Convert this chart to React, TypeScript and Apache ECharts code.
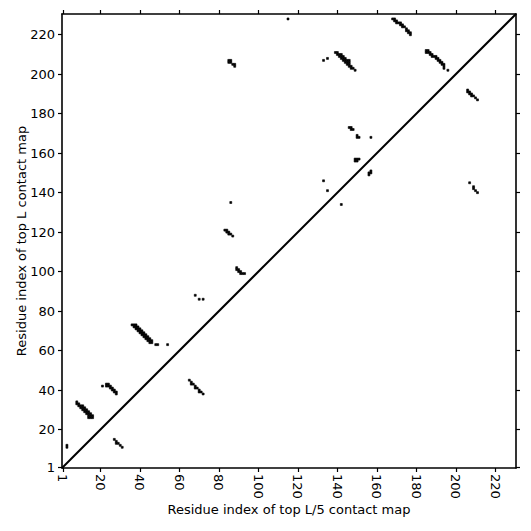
import React, { useEffect, useRef } from "react";
import * as echarts from "echarts";

const AXIS_MIN = 0.5;
const AXIS_MAX = 230.5;
const tickValues = [1, 20, 40, 60, 80, 100, 120, 140, 160, 180, 200, 220];
const diagonal: [number, number][] = [[0.5, 0.5], [230.5, 230.5]];

// contact cells [residue i (x), residue j (y)], grouped by cluster
const cluster01: [number, number][] = [[3, 11], [3, 12]];
const cluster02: [number, number][] = [
  [8, 34], [8, 33], [9, 33], [9, 32], [10, 32], [10, 31], [11, 32], [11, 31], [11, 30],
  [12, 31], [12, 30], [12, 29], [13, 30], [13, 29], [13, 28], [14, 29], [14, 28], [14, 27],
  [15, 28], [15, 27], [15, 26], [14, 26], [16, 27], [16, 26],
];
const cluster03: [number, number][] = [
  [21, 42], [23, 43], [24, 43], [23, 42], [24, 42], [25, 42], [25, 41], [26, 41], [26, 40],
  [27, 40], [27, 39], [28, 39], [28, 38],
];
const cluster04: [number, number][] = [[27, 15], [28, 14], [28, 13], [29, 13], [30, 12], [31, 11]];
const cluster05: [number, number][] = [
  [36, 73], [37, 73], [38, 73], [37, 72], [38, 72], [39, 72], [38, 71], [39, 71], [40, 71],
  [39, 70], [40, 70], [41, 70], [40, 69], [41, 69], [42, 69], [41, 68], [42, 68], [43, 68],
  [42, 67], [43, 67], [44, 67], [43, 66], [44, 66], [45, 66], [44, 65], [45, 65], [46, 65],
  [45, 64], [46, 64], [48, 63], [49, 63], [54, 63],
];
const cluster06: [number, number][] = [
  [65, 45], [66, 44], [66, 43], [67, 43], [68, 42], [68, 41], [69, 41], [70, 40], [70, 39],
  [71, 39], [72, 38],
];
const cluster07: [number, number][] = [[68, 88], [70, 86], [72, 86]];
const cluster08: [number, number][] = [
  [83, 121], [84, 121], [84, 120], [85, 120], [85, 119], [86, 119], [87, 118], [86, 135],
];
const cluster09: [number, number][] = [
  [89, 102], [89, 101], [90, 101], [90, 100], [91, 100], [91, 99], [92, 99], [93, 99],
];
const cluster10: [number, number][] = [
  [85, 207], [86, 207], [85, 206], [86, 206], [87, 205], [88, 205], [88, 204],
];
const cluster11: [number, number][] = [[115, 228]];
const cluster12: [number, number][] = [
  [133, 207], [135, 208],
  [139, 211], [140, 211], [140, 210], [141, 210], [142, 210], [141, 209], [142, 209], [143, 209],
  [142, 208], [143, 208], [144, 208], [143, 207], [144, 207], [145, 207], [146, 207],
  [144, 206], [145, 206], [146, 206], [145, 205], [146, 205], [146, 204], [147, 204],
  [147, 203], [148, 203], [149, 202],
];
const cluster13: [number, number][] = [[133, 146], [135, 141], [142, 134]];
const cluster14: [number, number][] = [
  [146, 173], [147, 173], [147, 172], [148, 172], [150, 169], [150, 168], [151, 168], [157, 168],
];
const cluster15: [number, number][] = [[149, 157], [150, 157], [151, 157], [149, 156], [150, 156]];
const cluster16: [number, number][] = [[157, 151], [157, 150], [156, 150], [156, 149]];
const cluster17: [number, number][] = [
  [168, 228], [169, 228], [169, 227], [170, 227], [170, 226], [171, 226], [172, 226],
  [172, 225], [173, 225], [173, 224], [174, 224], [175, 223], [175, 222], [176, 222],
  [176, 221], [177, 221], [177, 220],
];
const cluster18: [number, number][] = [
  [185, 212], [186, 212], [185, 211], [186, 211], [187, 211], [187, 210], [188, 210],
  [188, 209], [189, 209], [190, 209], [190, 208], [191, 208], [191, 207], [192, 207],
  [192, 206], [193, 206], [193, 205], [194, 205], [194, 204], [194, 203], [196, 202],
];
const cluster19: [number, number][] = [
  [206, 192], [206, 191], [207, 191], [207, 190], [208, 190], [208, 189], [209, 189],
  [210, 188], [211, 187],
];
const cluster20: [number, number][] = [[207, 145], [209, 143], [209, 142], [210, 141], [211, 140]];

const contacts = [
  ...cluster01, ...cluster02, ...cluster03, ...cluster04, ...cluster05, ...cluster06,
  ...cluster07, ...cluster08, ...cluster09, ...cluster10, ...cluster11, ...cluster12,
  ...cluster13, ...cluster14, ...cluster15, ...cluster16, ...cluster17, ...cluster18,
  ...cluster19, ...cluster20,
];

const FONT = "DejaVu Sans";

export default function App() {
  const ref = useRef<HTMLDivElement>(null);
  useEffect(() => {
    if (!ref.current) return;
    const chart = echarts.init(ref.current, null, { renderer: "svg" });
    const lineStyle = { color: "#000", width: 1.6 };
    const tickStyle = { color: "#000", width: 1.2 };
    const baseAxis = {
      type: "value" as const,
      min: AXIS_MIN,
      max: AXIS_MAX,
      splitLine: { show: false },
      axisLine: { show: true, onZero: false, lineStyle },
      axisTick: { show: true, inside: false, length: 4, lineStyle: tickStyle, customValues: tickValues },
    };
    chart.setOption({
      animation: false,
      backgroundColor: "#fff",
      grid: { left: 62, right: 15, top: 14, bottom: 63, containLabel: false },
      xAxis: [
        {
          ...baseAxis,
          position: "bottom",
          name: "Residue index of top L/5 contact map",
          nameLocation: "middle",
          nameGap: 35,
          nameMoveOverlap: false,
          nameTextStyle: { fontFamily: FONT, fontSize: 13, color: "#000" },
          axisLabel: {
            show: true,
            customValues: tickValues,
            rotate: -90,
            margin: 6,
            fontFamily: FONT,
            fontSize: 13,
            color: "#000",
          },
        },
        {
          ...baseAxis,
          position: "top",
          axisLabel: { show: false },
        },
      ],
      yAxis: [
        {
          ...baseAxis,
          position: "left",
          name: "Residue index of top L contact map",
          nameLocation: "middle",
          nameGap: 34,
          nameMoveOverlap: false,
          nameTextStyle: { fontFamily: FONT, fontSize: 13, color: "#000" },
          axisLabel: {
            show: true,
            customValues: tickValues,
            margin: 7,
            fontFamily: FONT,
            fontSize: 13,
            color: "#000",
          },
        },
        {
          ...baseAxis,
          position: "right",
          axisLabel: { show: false },
        },
      ],
      series: [
        {
          type: "custom",
          xAxisIndex: 0,
          yAxisIndex: 0,
          clip: true,
          data: contacts,
          renderItem: (_params: any, api: any) => {
            const x = api.value(0);
            const y = api.value(1);
            const p1 = api.coord([x - 0.5, y + 0.5]);
            const p2 = api.coord([x + 0.5, y - 0.5]);
            return {
              type: "rect",
              shape: { x: p1[0], y: p1[1], width: p2[0] - p1[0], height: p2[1] - p1[1] },
              style: { fill: "#000", stroke: "#000", lineWidth: 0.6 },
            };
          },
        },
        {
          type: "line",
          xAxisIndex: 0,
          yAxisIndex: 0,
          data: diagonal,
          symbol: "none",
          lineStyle: { color: "#000", width: 2 },
          silent: true,
        },
      ],
    });
    return () => chart.dispose();
  }, []);
  return (
    <div
      ref={ref}
      style={{ position: "absolute", left: 0, top: 0, width: 531, height: 531 }}
    />
  );
}
